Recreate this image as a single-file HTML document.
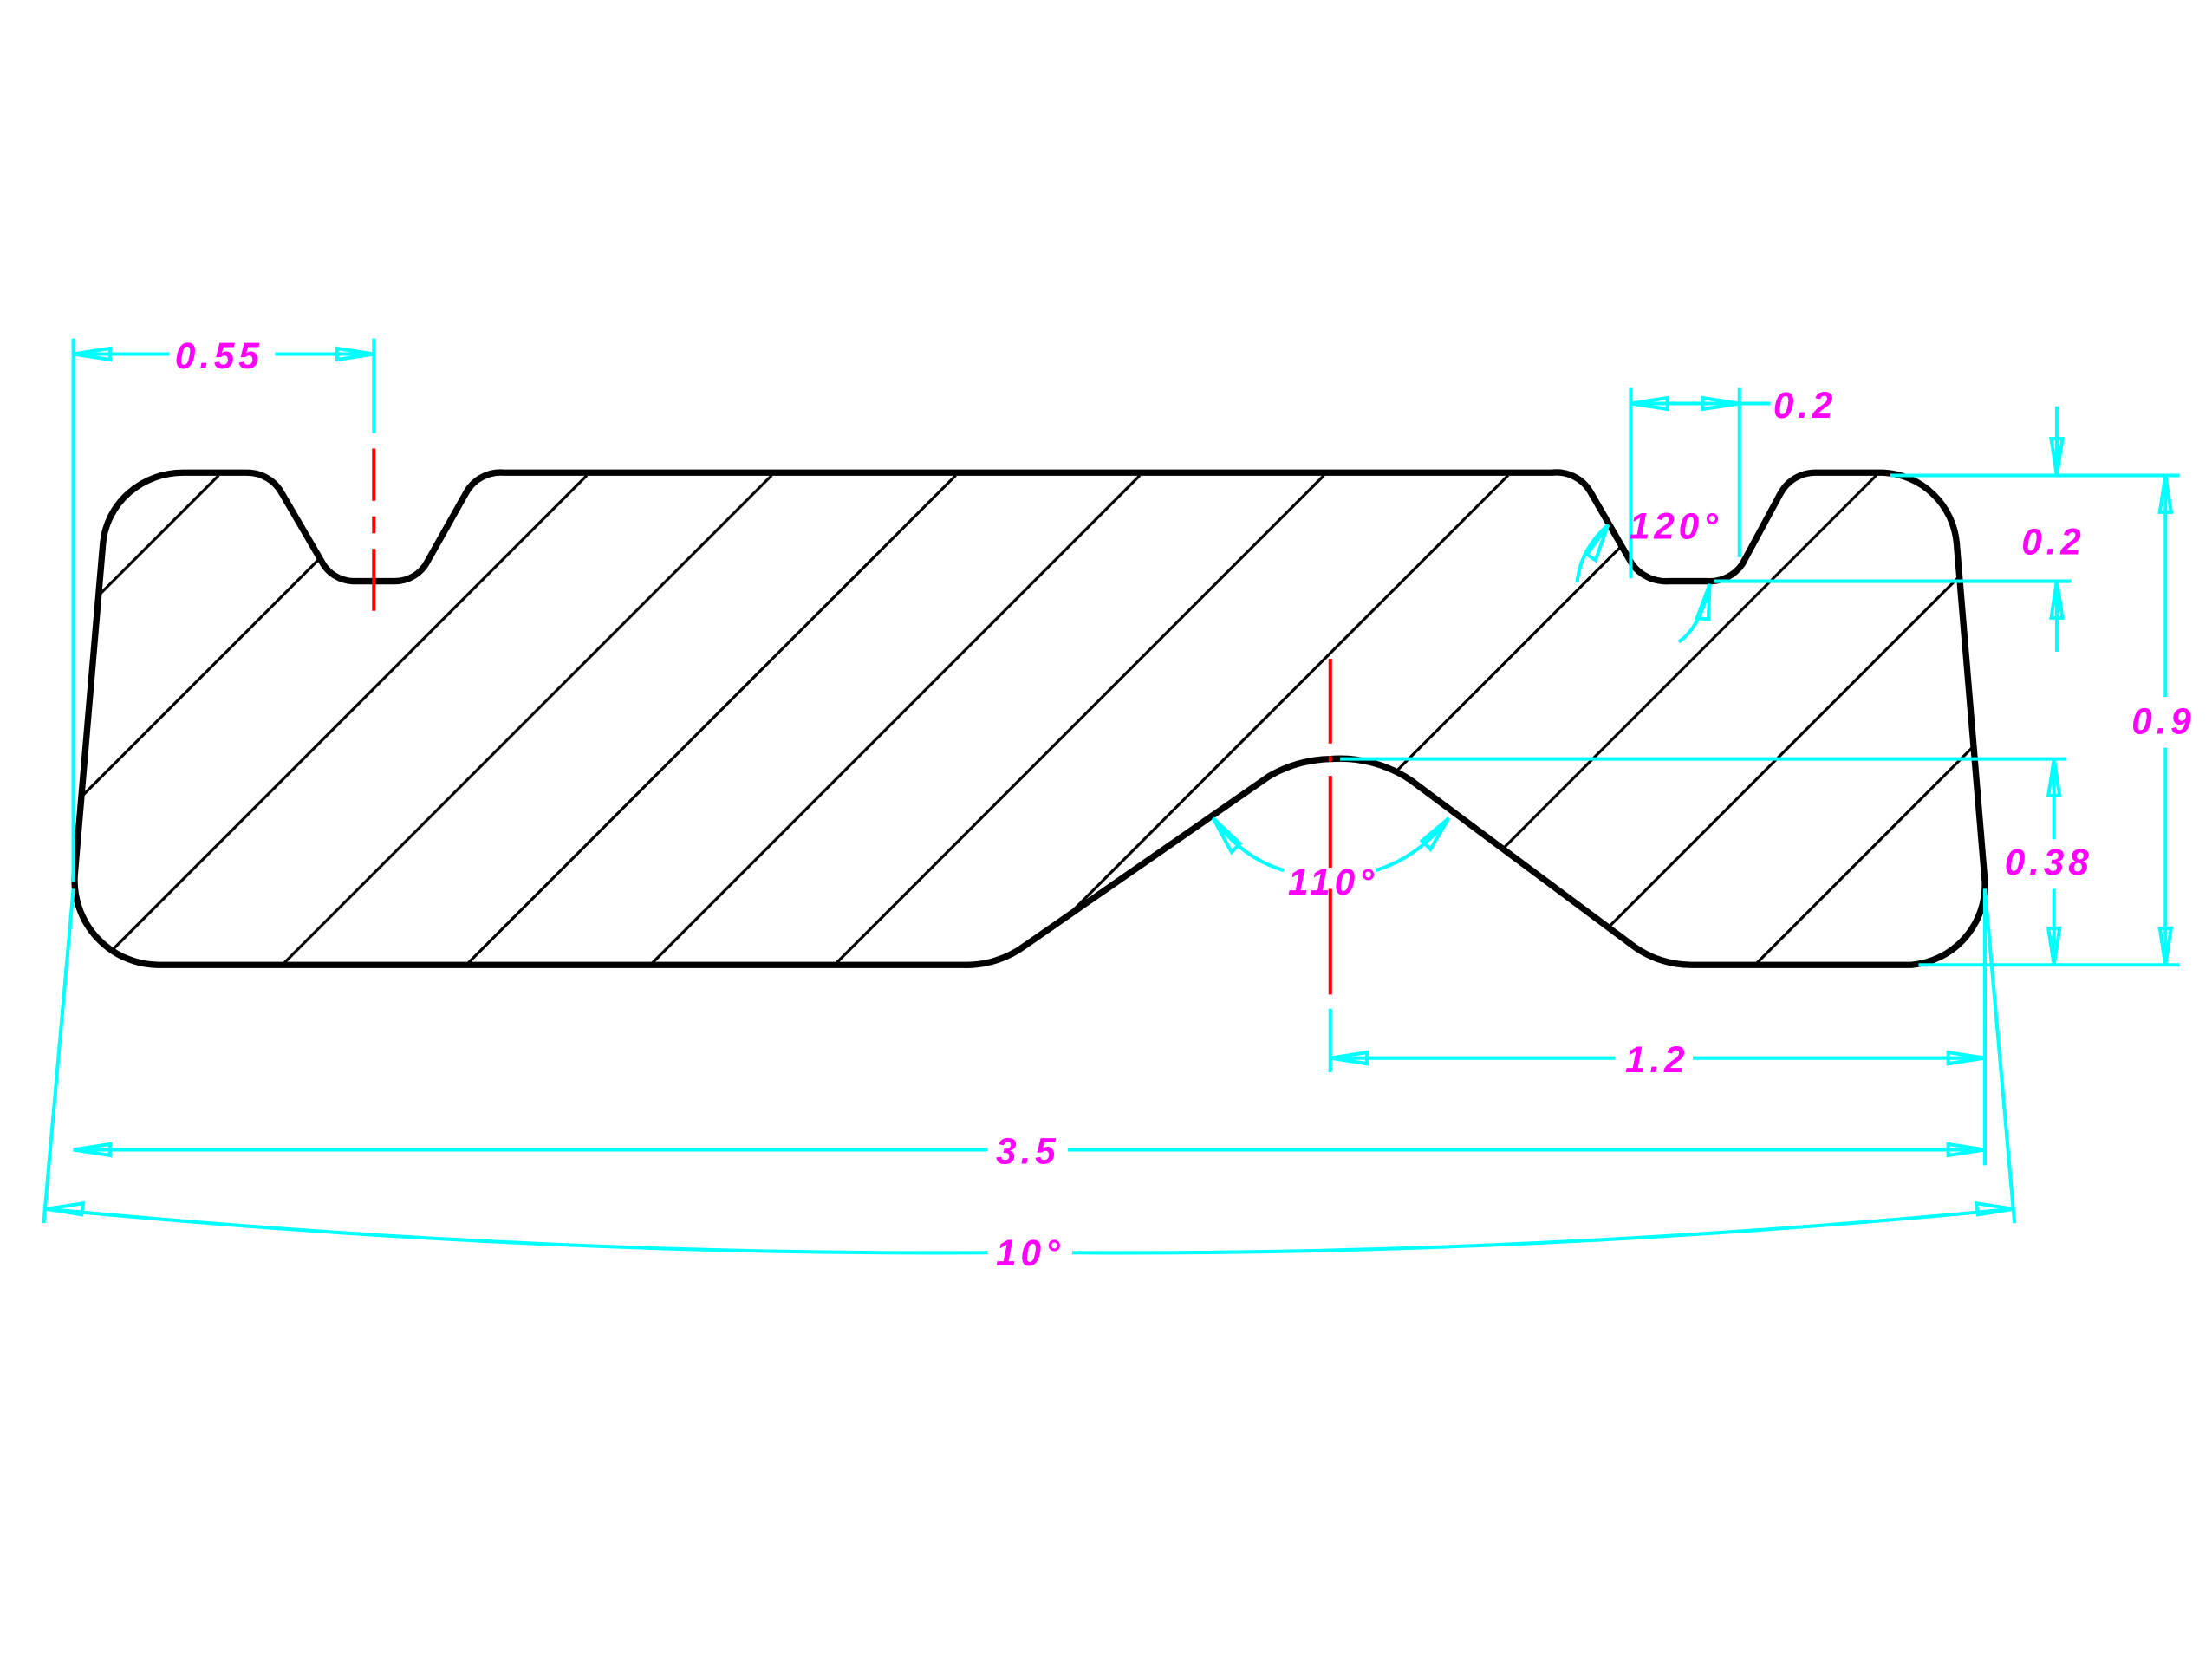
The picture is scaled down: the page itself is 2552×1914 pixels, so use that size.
<!DOCTYPE html>
<html><head><meta charset="utf-8"><style>
html,body{margin:0;padding:0;background:#fff;}
svg{display:block;}
text{font-family:"Liberation Sans",sans-serif;font-style:italic;font-weight:bold;fill:#ff00ff;font-size:26px;letter-spacing:3px;}
</style></head><body>
<svg width="2552" height="1914" viewBox="0 0 1568 1176" xmlns="http://www.w3.org/2000/svg">
<defs>
<clipPath id="cp"><path id="outline" d="M53,620 L73,385 A57,55 0 0 1 130,335 L175,335 A28,28 0 0 1 200,350 L228,398 A26,26 0 0 0 250,412 L280,412 A26,26 0 0 0 303,398 L330,350 A28,28 0 0 1 357,335 L1100,335 A28,28 0 0 1 1127,348 L1157,400 A30,30 0 0 0 1183,412 L1210,412 A28,28 0 0 0 1235,400 L1262,350 A28,28 0 0 1 1287,335 L1335,335 A55,55 0 0 1 1387,385 L1407,625 A57,57 0 0 1 1355,684 L1200,684 A70,70 0 0 1 1157,670 L1000,553 A90,90 0 0 0 943,538 A90,90 0 0 0 900,550 L727,670 A70,70 0 0 1 683,684 L113,684 A60,60 0 0 1 53,620 Z"/></clipPath>
</defs>
<g clip-path="url(#cp)" stroke="#000" stroke-width="2" fill="none">
<line x1="155" y1="337" x2="-195" y2="687"/>
<line x1="285.5" y1="337" x2="-64.5" y2="687"/>
<line x1="416" y1="337" x2="66" y2="687"/>
<line x1="547" y1="337" x2="197" y2="687"/>
<line x1="677.5" y1="337" x2="327.5" y2="687"/>
<line x1="808" y1="337" x2="458" y2="687"/>
<line x1="938.5" y1="337" x2="588.5" y2="687"/>
<line x1="1069" y1="337" x2="719" y2="687"/>
<line x1="1199.5" y1="337" x2="849.5" y2="687"/>
<line x1="1330" y1="337" x2="980" y2="687"/>
<line x1="1460.5" y1="337" x2="1110.5" y2="687"/>
<line x1="1591" y1="337" x2="1241" y2="687"/>
</g>
<use href="#outline" fill="none" stroke="#000" stroke-width="4.5"/>
<g stroke="#ff0000" stroke-width="2.5" fill="none">
<line x1="265" y1="318" x2="265" y2="355"/><line x1="265" y1="366" x2="265" y2="378"/><line x1="265" y1="389" x2="265" y2="433"/>
<line x1="943" y1="467" x2="943" y2="527"/><line x1="943" y1="536" x2="943" y2="540"/><line x1="943" y1="550" x2="943" y2="615"/><line x1="943" y1="630" x2="943" y2="705"/>
</g>
<g stroke="#00ffff" stroke-width="2.5" fill="none">
<line x1="52" y1="240" x2="52" y2="625"/>
<line x1="265" y1="240" x2="265" y2="307"/>
<line x1="52" y1="251" x2="120" y2="251"/><line x1="195" y1="251" x2="265" y2="251"/>
<path d="M52,251 L78,247 L78,255 Z M265,251 L239,247 L239,255 Z"/>
<line x1="1156" y1="275" x2="1156" y2="410"/><line x1="1233" y1="275" x2="1233" y2="395"/>
<line x1="1156" y1="286" x2="1255" y2="286"/>
<path d="M1156,286 L1182,282 L1182,290 Z M1233,286 L1207,282 L1207,290 Z"/>
<line x1="1340" y1="337" x2="1545" y2="337"/>
<line x1="1215" y1="412" x2="1468" y2="412"/>
<line x1="950" y1="538" x2="1465" y2="538"/>
<line x1="1360" y1="684" x2="1545" y2="684"/>
<line x1="1458" y1="288" x2="1458" y2="337"/><line x1="1458" y1="412" x2="1458" y2="462"/>
<path d="M1458,337 L1454,311 L1462,311 Z M1458,412 L1454,438 L1462,438 Z"/>
<line x1="1535" y1="337" x2="1535" y2="494"/><line x1="1535" y1="530" x2="1535" y2="684"/>
<path d="M1535,337 L1531,363 L1539,363 Z M1535,684 L1531,658 L1539,658 Z"/>
<line x1="1456" y1="538" x2="1456" y2="595"/><line x1="1456" y1="630" x2="1456" y2="684"/>
<path d="M1456,538 L1452,564 L1460,564 Z M1456,684 L1452,658 L1460,658 Z"/>
<line x1="943" y1="715" x2="943" y2="760"/>
<line x1="1407" y1="630" x2="1407" y2="826"/>
<line x1="943" y1="750" x2="1145" y2="750"/><line x1="1200" y1="750" x2="1407" y2="750"/>
<path d="M943,750 L969,746 L969,754 Z M1407,750 L1381,746 L1381,754 Z"/>
<line x1="52" y1="815" x2="700" y2="815"/><line x1="757" y1="815" x2="1407" y2="815"/>
<path d="M52,815 L78,811 L78,819 Z M1407,815 L1381,811 L1381,819 Z"/>
<line x1="52" y1="630" x2="31" y2="867"/><line x1="1407" y1="630" x2="1428" y2="867"/>
<path d="M33,857 Q380,890 700,888"/><path d="M760,888 Q1080,890 1427,857"/>
<path d="M33,857 L59,853 L58,861 Z M1427,857 L1401,853 L1402,861 Z"/>
<path d="M1118,413 Q1120,390 1140,372"/>
<path d="M1140,372 L1125,393 L1131,397 Z"/>
<path d="M1190,455 Q1205,445 1212,415"/>
<path d="M1212,414 L1203,438 L1211,439 Z"/>
<path d="M860,580 Q880,608 910,617"/><path d="M975,617 Q1005,608 1027,580"/>
<path d="M860,580 L879,598 L873,604 Z M1027,580 L1014,602 L1008,596 Z"/>
</g>
<text x="124" y="261">0.55</text>
<text x="1257" y="296">0.2</text>
<text x="1433" y="393">0.2</text>
<text x="1511" y="520">0.9</text>
<text x="1421" y="620">0.38</text>
<text x="1152" y="760">1.2</text>
<text x="706" y="825">3.5</text>
<text x="706" y="897">10°</text>
<text x="1155" y="382">120°</text>
<text x="913" y="634">110°</text>
</svg>
</body></html>
